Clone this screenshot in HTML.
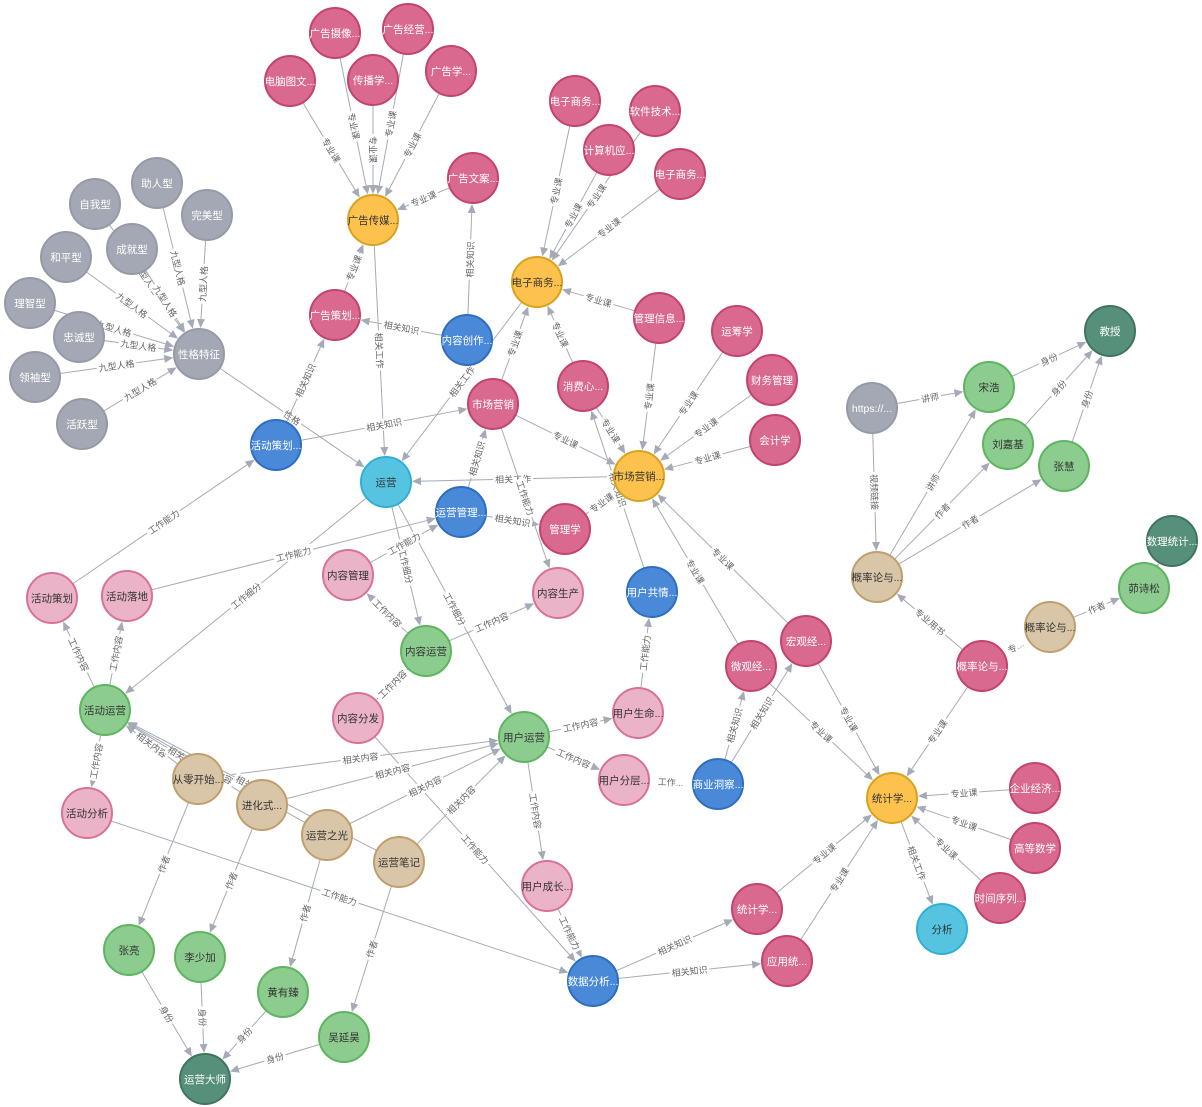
<!DOCTYPE html>
<html><head><meta charset="utf-8"><style>
html,body{margin:0;padding:0;background:#fff;}
svg{display:block;font-family:"Liberation Sans","Noto Sans CJK SC",sans-serif;}
</style></head><body>
<svg id="g" width="1202" height="1107" viewBox="0 0 1202 1107" xmlns="http://www.w3.org/2000/svg"></svg>
<script>
var T={P:["#d9698f","#c4436d","#fff"],LP:["#ebb3c7","#d8719a","#333"],G:["#a4a8b4","#959aa6","#fff"],O:["#fdc24d","#d9a21e","#333"],GR:["#8dcc8f","#5db55f","#333"],DG:["#56907a","#3f7461","#fff"],B:["#4a89d8","#2e6ec0","#fff"],C:["#56c4e0","#2fb0d2","#333"],T:["#d9c5a8","#bf9f6e","#333"]};
var N={
a1:[335,33,"广告摄像...","P"],a2:[408,29,"广告经营...","P"],a3:[290,81,"电脑图文...","P"],a4:[373,80,"传播学...","P"],a5:[451,71,"广告学...","P"],
ad:[373,220,"广告传媒...","O"],aw:[473,178,"广告文案...","P"],
e1:[575,101,"电子商务...","P"],e2:[655,111,"软件技术...","P"],e3:[609,150,"计算机应...","P"],e4:[680,174,"电子商务...","P"],
ec:[537,282,"电子商务...","O"],mi:[659,318,"管理信息...","P"],yc:[737,331,"运筹学","P"],cw:[772,380,"财务管理","P"],kj:[775,440,"会计学","P"],
t1:[157,183,"助人型","G"],t2:[95,204,"自我型","G"],t3:[207,215,"完美型","G"],t4:[132,249,"成就型","G"],t5:[66,257,"和平型","G"],t6:[30,303,"理智型","G"],t7:[79,337,"忠诚型","G"],t8:[35,377,"领袖型","G"],t9:[82,424,"活跃型","G"],
xg:[199,354,"性格特征","G"],ap:[335,315,"广告策划...","P"],nc:[467,340,"内容创作...","B"],mp:[493,404,"市场营销","P"],xf:[583,386,"消费心...","P"],mo:[639,476,"市场营销...","O"],
hb:[276,445,"活动策划...","B"],yy:[386,482,"运营","C"],yg:[461,512,"运营管理...","B"],gl:[565,529,"管理学","P"],
ng:[348,575,"内容管理","LP"],ns:[558,593,"内容生产","LP"],gq:[652,592,"用户共情...","B"],
hl:[52,598,"活动策划","LP"],hd:[127,596,"活动落地","LP"],ny:[426,651,"内容运营","GR"],nf:[358,718,"内容分发","LP"],hy:[105,710,"活动运营","GR"],
uy:[524,737,"用户运营","GR"],us:[638,713,"用户生命...","LP"],wg:[751,666,"微观经...","P"],hg:[806,641,"宏观经...","P"],uf:[624,780,"用户分层...","LP"],sy:[718,784,"商业洞察...","B"],
hf:[87,813,"活动分析","LP"],b1:[198,779,"从零开始...","T"],b2:[262,805,"进化式...","T"],b3:[327,835,"运营之光","T"],b4:[399,862,"运营笔记","T"],
uc:[547,886,"用户成长...","LP"],so:[892,798,"统计学...","O"],qj:[1035,788,"企业经济...","P"],gs:[1035,848,"高等数学","P"],sj:[1000,898,"时间序列...","P"],fx:[942,929,"分析","C"],
sp:[757,909,"统计学...","P"],yt:[787,961,"应用统...","P"],sf:[593,981,"数据分析...","B"],
zl:[129,950,"张亮","GR"],ls:[200,957,"李少加","GR"],hz:[283,992,"黄有臻","GR"],ds:[205,1079,"运营大师","DG"],wy:[344,1037,"吴延昊","GR"],
ht:[872,408,"https://...","G"],sh:[989,387,"宋浩","GR"],js:[1110,331,"教授","DG"],lj:[1008,444,"刘嘉基","GR"],zh:[1064,466,"张慧","GR"],
pt:[877,577,"概率论与...","T"],pp:[982,666,"概率论与...","P"],p2:[1050,627,"概率论与...","T"],gs2:[1144,588,"茆诗松","GR"],sl:[1172,541,"数理统计...","DG"]};
var Z="专业课",J="九型人格",E=[
["a1","ad",Z],["a2","ad",Z],["a3","ad",Z],["a4","ad",Z],["a5","ad",Z],["aw","ad",Z],["ap","ad",Z],["ad","yy","相关工作"],
["nc","ap","相关知识"],["nc","aw","相关知识"],["ec","yy","相关工作"],
["e1","ec",Z],["e3","ec",Z],["e2","ec",Z],["e4","ec",Z],["mi","ec",Z],["mp","ec",Z],["xf","ec",Z],
["mi","mo",Z],["yc","mo",Z],["cw","mo",Z],["kj","mo",Z],["xf","mo",Z],["mp","mo",Z],["gl","mo",Z],["mo","yy","相关工作"],["gq","xf","相关知识"],
["wg","mo",Z],["hg","mo",Z],
["t1","xg",J],["t2","xg",J],["t3","xg",J],["t4","xg",J],["t5","xg",J],["t6","xg",J],["t7","xg",J],["t8","xg",J],["t9","xg",J],
["xg","yy","性格"],["hb","ap","相关知识"],["hb","mp","相关知识"],["yg","mp","相关知识"],["yg","gl","相关知识"],["mp","ns","工作能力"],
["yy","ny","工作细分"],["yy","uy","工作细分"],["yy","hy","工作细分"],["ng","yg","工作能力"],["hd","yg","工作能力"],
["ny","ng","工作内容"],["ny","ns","工作内容"],["ny","nf","工作内容"],["hy","hl","工作内容"],["hy","hd","工作内容"],["hy","hf","工作内容"],
["hl","hb","工作能力"],["uy","us","工作内容"],["uy","uf","工作内容"],["uy","uc","工作内容"],["us","gq","工作能力"],["uf","sy","工作..."],
["sy","wg","相关知识"],["sy","hg","相关知识"],["nf","sf","工作能力"],["uc","sf","工作能力"],["hf","sf","工作能力"],
["sf","sp","相关知识"],["sf","yt","相关知识"],["sp","so",Z],["yt","so",Z],["qj","so",Z],["gs","so",Z],["sj","so",Z],["wg","so",Z],["hg","so",Z],["pp","so",Z],["so","fx","相关工作"],
["b1","hy","相关内容"],["b1","uy","相关内容"],["b2","hy","相关内容"],["b2","uy","相关内容"],["b3","hy","相关内容"],["b3","uy","相关内容"],["b4","hy","相关内容"],["b4","uy","相关内容"],
["b1","zl","作者"],["b2","ls","作者"],["b3","hz","作者"],["b4","wy","作者"],["zl","ds","身份"],["ls","ds","身份"],["hz","ds","身份"],["wy","ds","身份"],
["ht","sh","讲师"],["ht","pt","视频链接"],["pt","sh","讲师"],["pt","lj","作者"],["pt","zh","作者"],["sh","js","身份"],["lj","js","身份"],["zh","js","身份"],
["pp","pt","专业用书"],["pp","p2","专..."],["p2","gs2","作者"],["gs2","sl",""]];
var R=25,s="";
E.forEach(function(e){var a=N[e[0]],b=N[e[1]];var dx=b[0]-a[0],dy=b[1]-a[1],L=Math.sqrt(dx*dx+dy*dy),ux=dx/L,uy=dy/L;
var x1=a[0]+ux*R,y1=a[1]+uy*R,x2=b[0]-ux*(R+1),y2=b[1]-uy*(R+1);
s+='<line x1="'+x1+'" y1="'+y1+'" x2="'+(x2-ux*6)+'" y2="'+(y2-uy*6)+'" stroke="#a5abb6" stroke-width="1"/>';
var bx=x2-ux*9,by=y2-uy*9;s+='<polygon points="'+x2+','+y2+' '+(bx-uy*4)+','+(by+ux*4)+' '+(bx+uy*4)+','+(by-ux*4)+'" fill="#a5abb6"/>';
if(e[2]){var mx=(x1+x2)/2,my=(y1+y2)/2,ang=Math.atan2(dy,dx)*180/Math.PI;if(ang>90)ang-=180;if(ang<=-90)ang+=180;var w=e[2].length*9+4;
s+='<g transform="translate('+mx+','+my+') rotate('+ang+')"><rect x="'+(-w/2)+'" y="-6" width="'+w+'" height="12" fill="#fff"/><text x="0" y="3.5" font-size="9" fill="#666" text-anchor="middle">'+e[2]+'</text></g>';}});
for(var k in N){var n=N[k],t=T[n[3]];s+='<circle cx="'+n[0]+'" cy="'+n[1]+'" r="'+R+'" fill="'+t[0]+'" stroke="'+t[1]+'" stroke-width="2"/><text x="'+n[0]+'" y="'+(n[1]+4)+'" font-size="10.5" fill="'+t[2]+'" text-anchor="middle">'+n[2]+'</text>';}
document.getElementById("g").innerHTML=s;
</script>
</body></html>
